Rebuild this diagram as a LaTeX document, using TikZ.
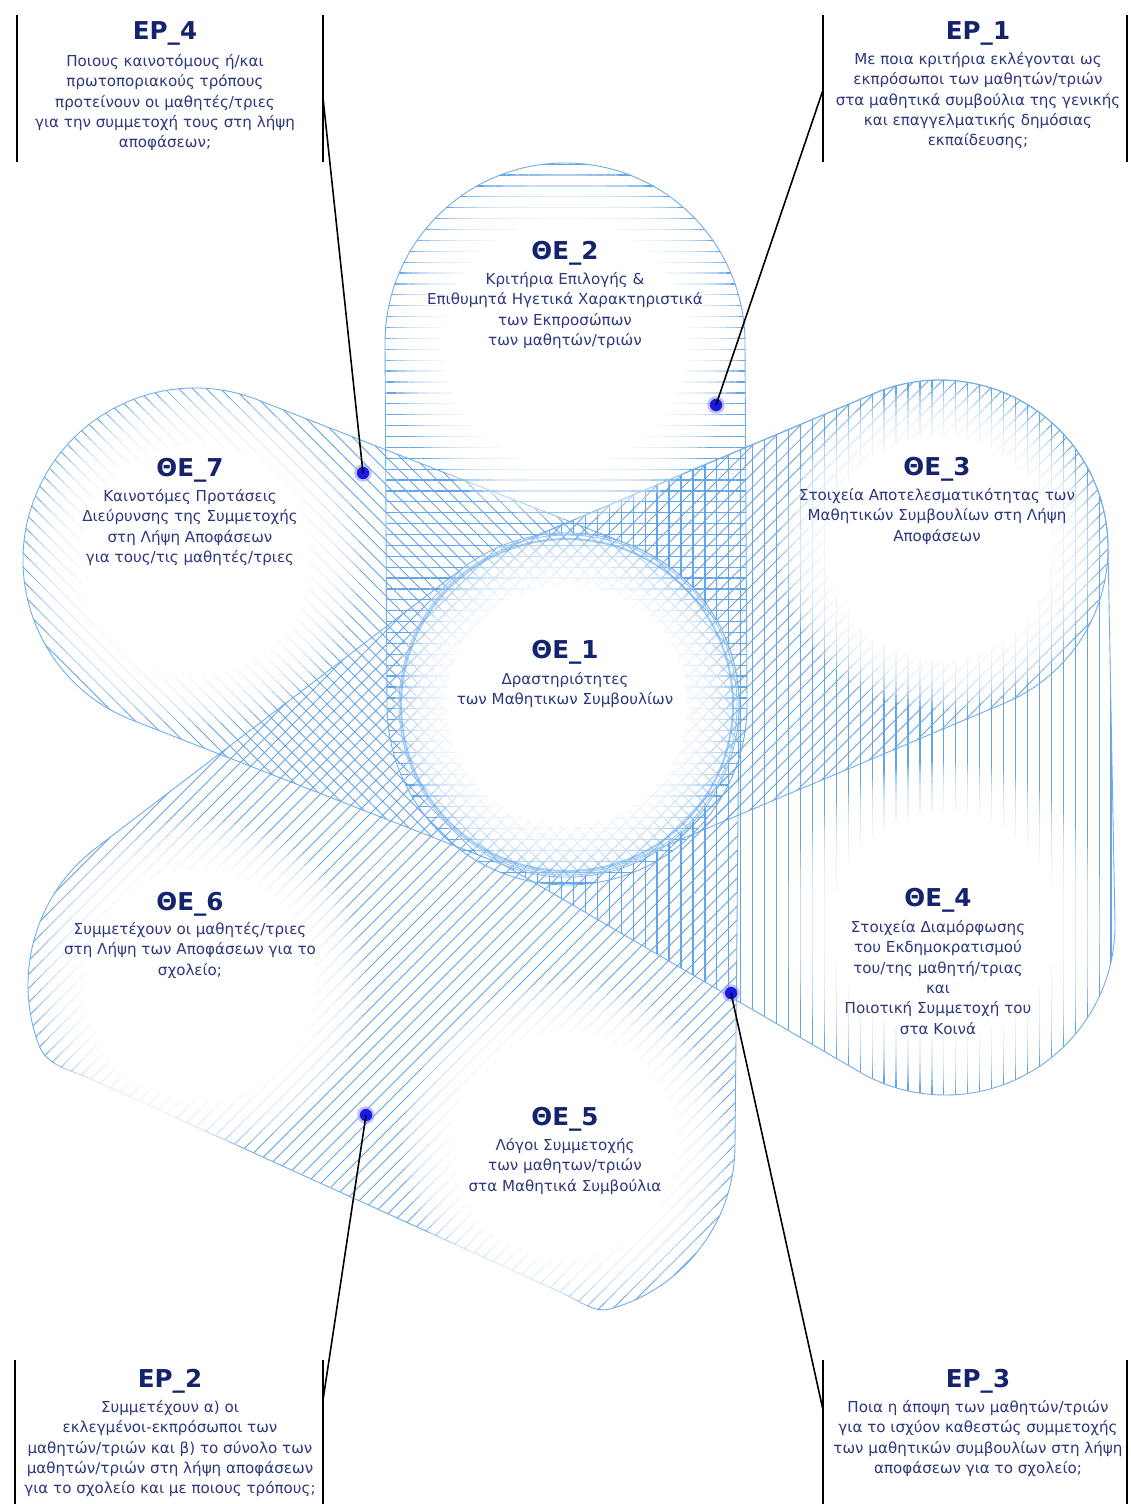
\documentclass[tikz,border=0pt]{standalone}
\usepackage{fontspec}
\setmainfont{DejaVu Sans}
\usetikzlibrary{calc,patterns.meta}
\definecolor{hatch}{RGB}{100,165,232}
\definecolor{edge}{RGB}{110,172,235}
\definecolor{ttl}{RGB}{20,35,110}
\definecolor{bdy}{RGB}{45,55,125}
\definecolor{dotc}{RGB}{25,25,230}
\newcommand{\petalpath}[4]{%
  \path[#1] let \p1=($(#3)-(#2)$), \n1={atan2(\y1,\x1)} in
   ($(#2)+(\n1+90:#4)$) arc[start angle=\n1+90, delta angle=180, radius=#4]
   -- ($(#3)+(\n1-90:#4)$) arc[start angle=\n1-90, delta angle=180, radius=#4] -- cycle;}
\newcommand{\softdisc}[2]{%
  \foreach \k in {1.0,0.96,...,0.71} {\fill[white,opacity=0.28] (#1) circle[radius=\k*#2];}
  \fill[white] (#1) circle[radius=0.7*#2];}
\begin{document}
\begin{tikzpicture}[x=0.02cm,y=0.02cm,
  petal/.style={draw=edge, line width=0.5pt, pattern color=hatch},
  hH/.style={petal, pattern={Lines[angle=0,distance=6.2pt,line width=0.7pt]}},
  hV/.style={petal, pattern={Lines[angle=90,distance=6.8pt,line width=0.7pt]}},
  hD/.style={petal, pattern={Lines[angle=45,distance=5.6pt,line width=0.5pt]}},
  hA/.style={petal, pattern={Lines[angle=-45,distance=5.6pt,line width=0.5pt]}},
  ttlf/.style={font=\bfseries\fontsize{14}{16}\selectfont, text=ttl, inner sep=0pt},
  bdyf/.style={font=\fontsize{8.6}{11.6}\selectfont, text=bdy, align=center, inner sep=0pt, anchor=north},
  vbar/.style={black, line width=1.1pt},
  callout/.style={black, line width=0.9pt},
  dot/.style={circle, fill=dotc, inner sep=0pt, minimum size=7pt},
  glow/.style={circle, fill=dotc!45, inner sep=0pt, minimum size=10pt, opacity=0.6}
]
\useasboundingbox (0,0) rectangle (1130,-1504);
\fill[white] (0,0) rectangle (1130,-1504);
% centres
\coordinate (O) at (567,-705);
\coordinate (P2) at (565,-343);
\coordinate (P3) at (940,-548);
\coordinate (P4) at (945,-925);
\coordinate (P5) at (565,-1145);
\coordinate (P6) at (200,-985);
\coordinate (P7) at (195,-560);
% ΘΕ_7 petal
\petalpath{hA}{P7}{O}{172}
% ΘΕ_6 + ΘΕ_5 petal (one outline)
\path[hD] ($(O)+(127.34:172)$) -- ($(P6)+(127.34:172)$)
   arc[start angle=127.34, end angle=200, radius=172]
   .. controls (46,-1066) and (70,-1069.5) .. (90,-1078.6)
   -- (560,-1291.9)
   .. controls (580,-1301) and (594,-1313) .. ($(P5)+(-75:170)$)
   arc[start angle=-75, end angle=0, radius=170]
   -- ($(O)+(0:172)$) arc[start angle=0, end angle=127.34, radius=172] -- cycle;
% ΘΕ_3 + ΘΕ_4 vertical petal (one outline)
\path[hV] ($(O)+(112.8:168)$) -- ($(P3)+(112.8:168)$)
   arc[start angle=112.8, end angle=0, radius=168]
   -- ($(P4)+(0:170)$) arc[start angle=0, end angle=-120.2, radius=170]
   -- ($(O)+(-120.2:170)$) arc[start angle=-120.2, end angle=112.8, radius=170] -- cycle;
% ΘΕ_3 petal
\petalpath{hD}{P3}{O}{168}
% ΘΕ_2 petal
\petalpath{hH}{P2}{O}{180}
% soft white discs
\softdisc{P2}{176}
\softdisc{P3}{160}
\softdisc{P4}{162}
\softdisc{P5}{162}
\softdisc{P6}{165}
\softdisc{P7}{165}
\softdisc{O}{172}
\draw[edge, line width=1.2pt, opacity=0.6] (O) circle[radius=166];
% theme texts
\node[ttlf] (t2) at (565,-253) {ΘΕ\_2};
\node[bdyf] (b2) at (565,-272) {Κριτήρια Επιλογής \&\\Επιθυμητά Ηγετικά Χαρακτηριστικά\\των Εκπροσώπων\\των μαθητών/τριών};
\node[ttlf] (t3) at (937,-469) {ΘΕ\_3};
\node[bdyf] (b3) at (937,-488) {Στοιχεία Αποτελεσματικότητας των\\Μαθητικών Συμβουλίων στη Λήψη\\Αποφάσεων};
\node[ttlf] (t7) at (190,-470) {ΘΕ\_7};
\node[bdyf] (b7) at (190,-489) {Καινοτόμες Προτάσεις\\Διεύρυνσης της Συμμετοχής\\στη Λήψη Αποφάσεων\\για τους/τις μαθητές/τριες};
\node[ttlf] (t1) at (565,-652) {ΘΕ\_1};
\node[bdyf] (b1) at (565,-672) {Δραστηριότητες\\των Μαθητικων Συμβουλίων};
\node[ttlf] (t6) at (190,-904) {ΘΕ\_6};
\node[bdyf] (b6) at (190,-922) {Συμμετέχουν οι μαθητές/τριες\\στη Λήψη των Αποφάσεων για το\\σχολείο;};
\node[ttlf] (t4) at (938,-900) {ΘΕ\_4};
\node[bdyf] (b4) at (938,-920) {Στοιχεία Διαμόρφωσης\\του Εκδημοκρατισμού\\του/της μαθητή/τριας\\και\\Ποιοτική Συμμετοχή του\\στα Κοινά};
\node[ttlf] (t5) at (565,-1119) {ΘΕ\_5};
\node[bdyf] (b5) at (565,-1138) {Λόγοι Συμμετοχής\\των μαθητων/τριών\\στα Μαθητικά Συμβούλια};
% EP texts
\node[ttlf] (e4) at (165,-33) {EP\_4};
\node[bdyf] (f4) at (165,-54) {Ποιους καινοτόμους ή/και\\πρωτοποριακούς τρόπους\\προτείνουν οι μαθητές/τριες\\για την συμμετοχή τους στη λήψη\\αποφάσεων;};
\node[ttlf] (e1) at (978,-33) {EP\_1};
\node[bdyf] (f1) at (978,-52) {Με ποια κριτήρια εκλέγονται ως\\εκπρόσωποι των μαθητών/τριών\\στα μαθητικά συμβούλια της γενικής\\και επαγγελματικής δημόσιας\\εκπαίδευσης;};
\node[ttlf] (e2) at (170,-1381) {EP\_2};
\node[bdyf] (f2) at (170,-1400) {Συμμετέχουν α) οι\\εκλεγμένοι-εκπρόσωποι των\\μαθητών/τριών και β) το σύνολο των\\μαθητών/τριών στη λήψη αποφάσεων\\για το σχολείο και με ποιους τρόπους;};
\node[ttlf] (e3) at (978,-1381) {EP\_3};
\node[bdyf] (f3) at (978,-1400) {Ποια η άποψη των μαθητών/τριών\\για το ισχύον καθεστώς συμμετοχής\\των μαθητικών συμβουλίων στη λήψη\\αποφάσεων για το σχολείο;};
% bracket bars
\draw[vbar] (17,-15) -- (17,-162);
\draw[vbar] (323,-15) -- (323,-162);
\draw[vbar] (823,-15) -- (823,-162);
\draw[vbar] (1127,-15) -- (1127,-162);
\draw[vbar] (15,-1360) -- (15,-1504);
\draw[vbar] (323,-1360) -- (323,-1504);
\draw[vbar] (823,-1360) -- (823,-1504);
\draw[vbar] (1127,-1360) -- (1127,-1504);
% callout anchors and dots
\coordinate (c4) at (323,-98);
\coordinate (c1) at (823,-90);
\coordinate (c2) at (323,-1400);
\coordinate (c3) at (823,-1410);
\node[glow] at (716,-405) {};
\node[glow] at (363,-473) {};
\node[glow] at (731,-993) {};
\node[glow] at (366,-1115) {};
\node[dot] (d1) at (716,-405) {};
\node[dot] (d4) at (363,-473) {};
\node[dot] (d3) at (731,-993) {};
\node[dot] (d2) at (366,-1115) {};
\draw[callout] (c1) -- (d1.center);
\draw[callout] (c4) -- (d4.center);
\draw[callout] (c3) -- (d3.center);
\draw[callout] (c2) -- (d2.center);
\end{tikzpicture}
\end{document}
